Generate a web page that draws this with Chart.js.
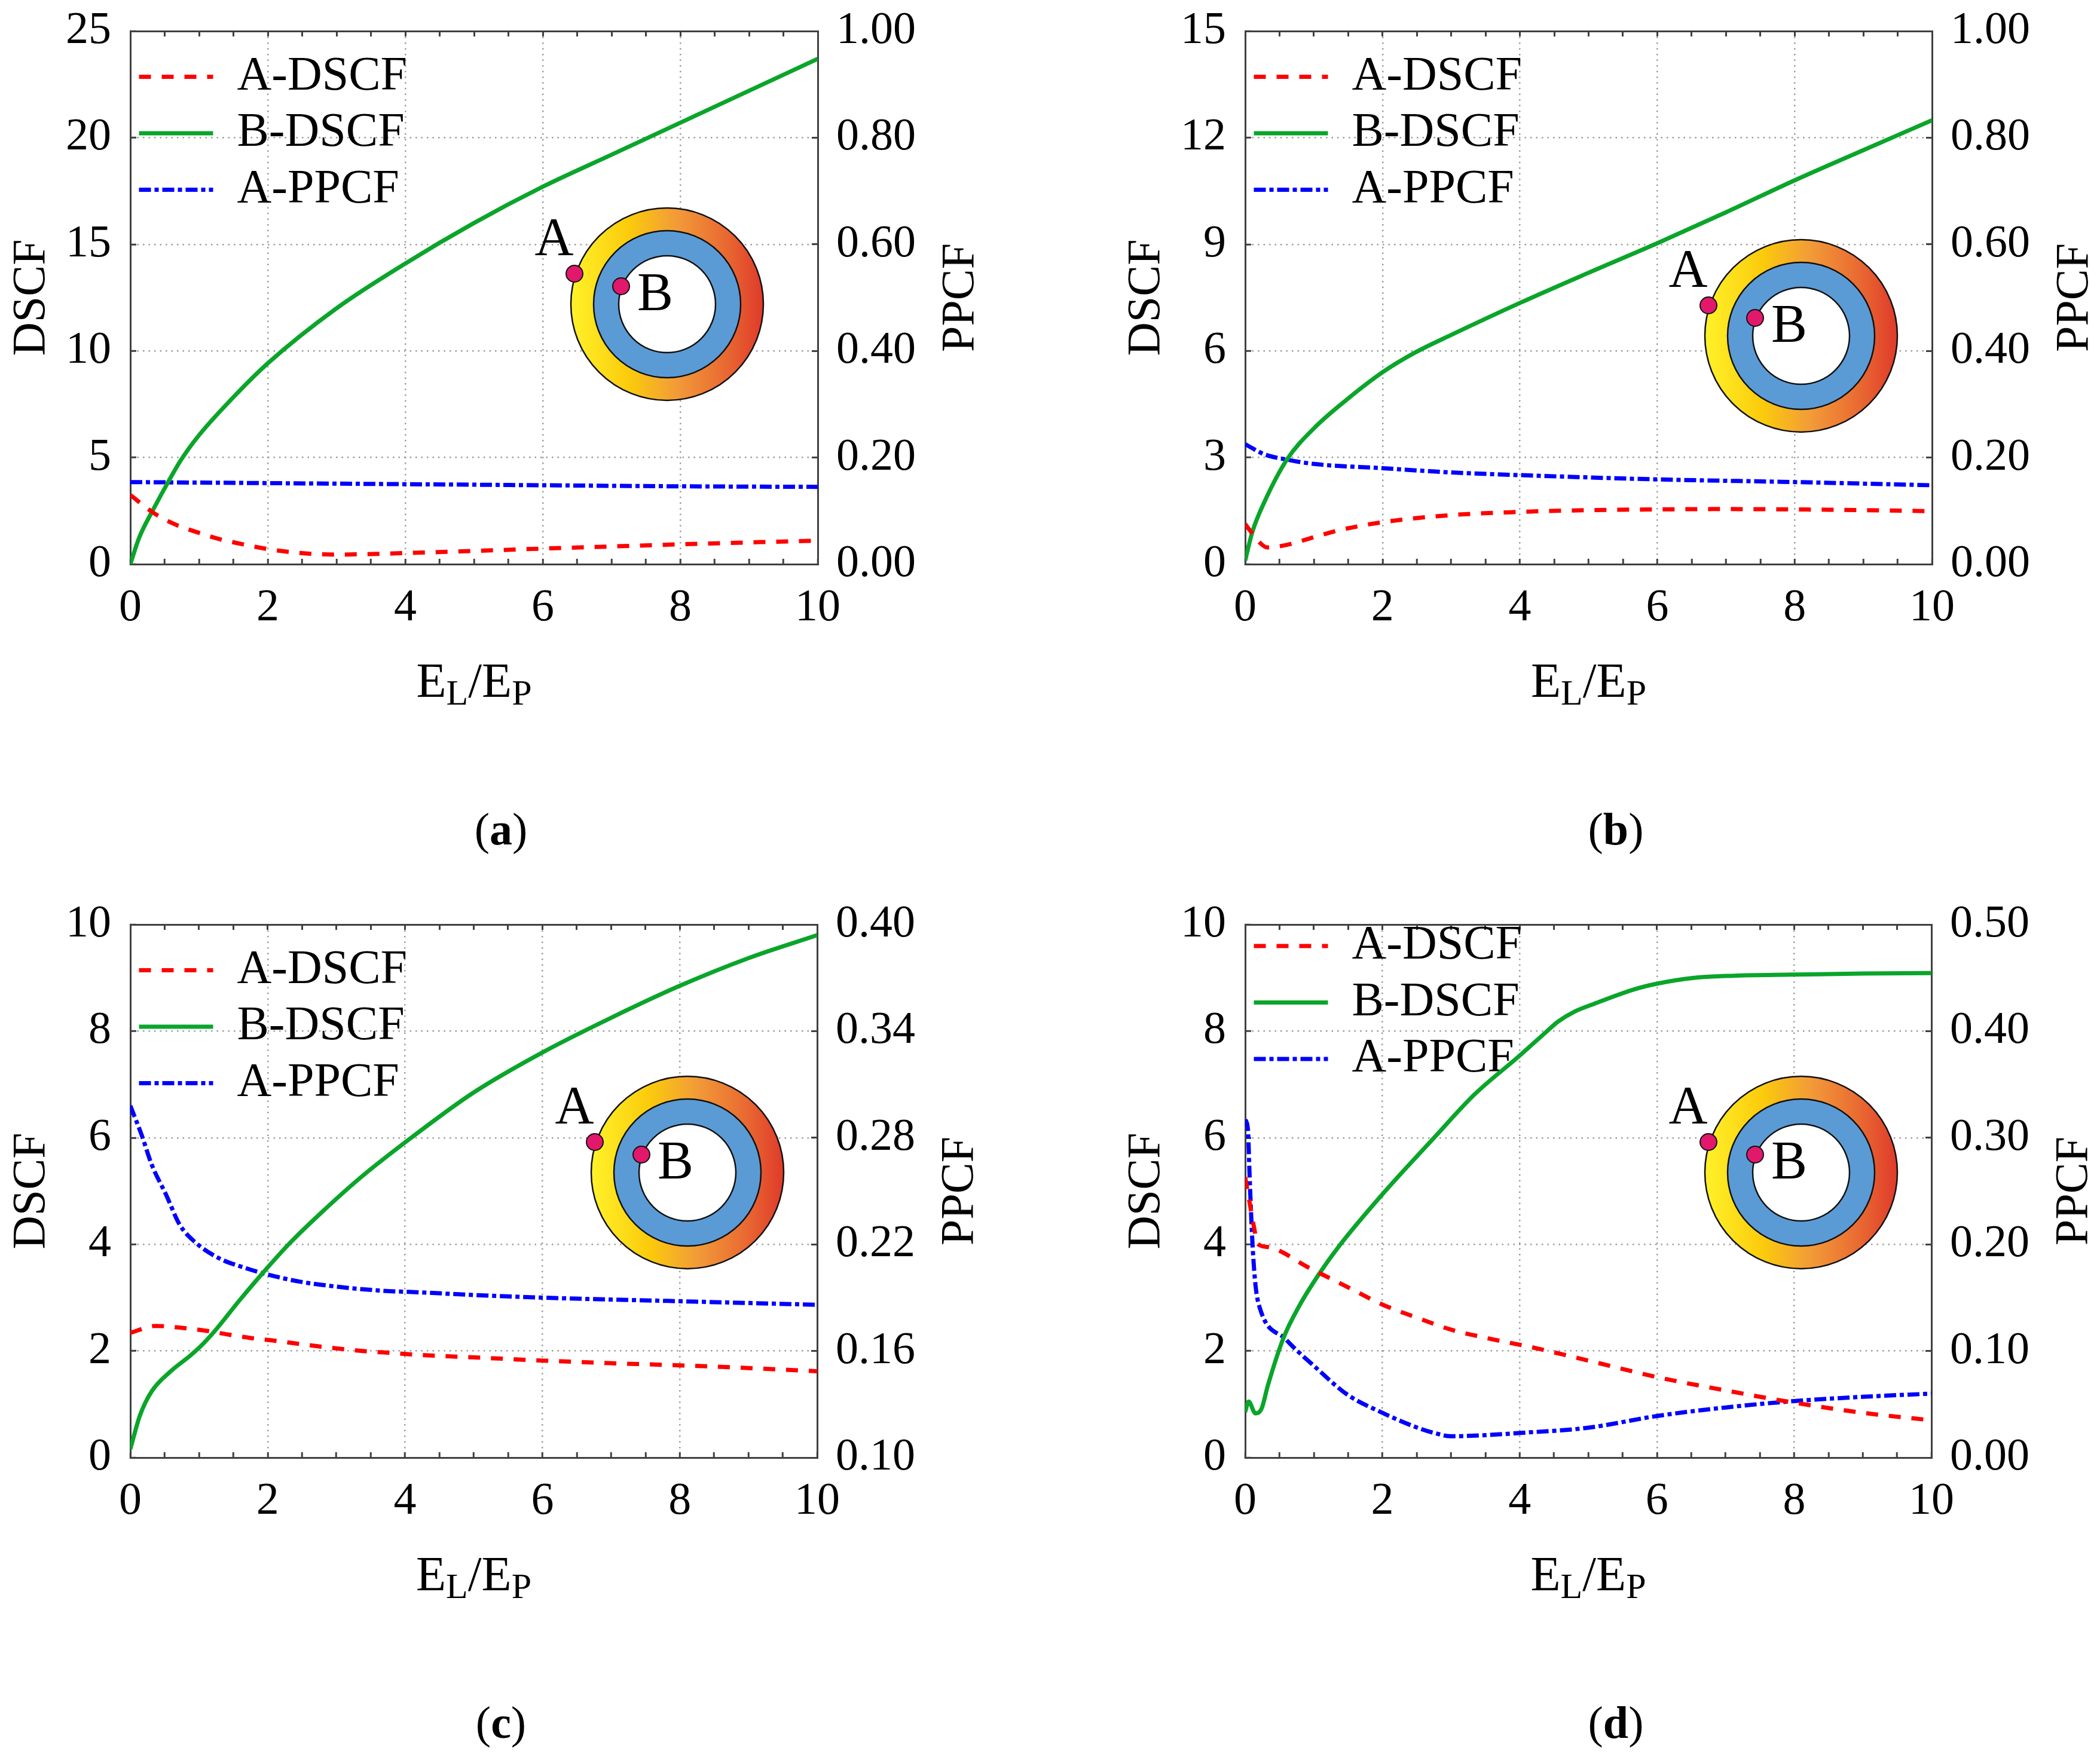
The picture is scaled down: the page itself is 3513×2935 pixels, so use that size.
<!DOCTYPE html>
<html>
<head>
<meta charset="utf-8">
<script src="https://cdn.jsdelivr.net/npm/chart.js@4.4.0/dist/chart.umd.min.js"></script>
<style>
  html, body { margin: 0; padding: 0; background: #fff; overflow: hidden; }
  #page { position: relative; width: 3513px; height: 2935px; font-family: "Liberation Serif", "Times New Roman", serif; color: #000; }
  canvas { position: absolute; }
  .xt { position: absolute; font-size: 82px; line-height: 1; white-space: nowrap; transform: translateX(-50%); }
  .xt sub { font-size: 60px; line-height: 0; vertical-align: -13px; }
  .yt { position: absolute; font-size: 78px; line-height: 1; white-space: nowrap; transform: translate(-50%, -50%) rotate(-90deg); }
  .cap { position: absolute; font-size: 76px; line-height: 1; white-space: nowrap; transform: translate(-50%, -50%); }
</style>
</head>
<body>
<div id="page"></div>
<script>
const FONT = '"Liberation Serif", "Times New Roman", serif';

// x axis ticks (minor every 0.5, labels on the majors)
const xMinor = [0, 0.5, 1, 1.5, 2, 2.5, 3, 3.5, 4, 4.5, 5, 5.5, 6, 6.5, 7, 7.5, 8, 8.5, 9, 9.5, 10];
const xMajor = [0, 2, 4, 6, 8, 10];

const seriesNames = ['A-DSCF', 'B-DSCF', 'A-PPCF'];

// (a)
const aDscfTicks = [0, 5, 10, 15, 20, 25];
const aPpcfTicks = [0, 0.2, 0.4, 0.6, 0.8, 1.0];
const aRedX = [0, 0.34, 0.64, 0.96, 1.29, 1.61, 1.96, 2.31, 2.65, 3, 4, 5, 6, 7, 8, 9, 10];
const aRedY = [3.24, 2.4, 1.88, 1.51, 1.18, 0.95, 0.73, 0.57, 0.48, 0.45, 0.52, 0.62, 0.73, 0.83, 0.93, 1.02, 1.1];
const aGreenX = [0, 0.13, 0.34, 0.55, 0.74, 1, 1.47, 2, 3, 4, 5, 6, 7, 8, 9, 10];
const aGreenY = [0, 1.25, 2.6, 3.85, 4.9, 6.05, 7.73, 9.42, 12.0, 14.1, 16.0, 17.7, 19.2, 20.7, 22.2, 23.7];
const aBlueX = [0, 2, 4, 6, 8, 10];
const aBlueY = [0.154, 0.152, 0.150, 0.148, 0.146, 0.145];

// (b)
const bDscfTicks = [0, 3, 6, 9, 12, 15];
const bPpcfTicks = [0, 0.2, 0.4, 0.6, 0.8, 1.0];
const bRedX = [0, 0.1, 0.22, 0.32, 0.6, 1, 1.38, 2, 3, 4, 5, 6, 7, 8, 9, 10];
const bRedY = [1.13, 0.87, 0.59, 0.47, 0.54, 0.76, 0.96, 1.18, 1.38, 1.47, 1.52, 1.54, 1.55, 1.54, 1.52, 1.49];
const bGreenX = [0, 0.1, 0.28, 0.61, 1, 1.46, 2, 2.47, 3, 4, 5, 6, 7, 8, 9, 10];
const bGreenY = [0.1, 0.88, 1.75, 2.95, 3.82, 4.6, 5.4, 5.95, 6.45, 7.35, 8.2, 9.03, 9.9, 10.8, 11.65, 12.49];
const bBlueX = [0, 0.28, 0.61, 1, 2, 3, 4, 6, 8, 10];
const bBlueY = [0.225, 0.206, 0.196, 0.188, 0.180, 0.172, 0.167, 0.159, 0.154, 0.148];

// (c)
const cDscfTicks = [0, 2, 4, 6, 8, 10];
const cPpcfTicks = [0.10, 0.16, 0.22, 0.28, 0.34, 0.40];
const cRedX = [0, 0.37, 0.78, 1.1, 1.42, 1.77, 2.12, 2.47, 2.78, 3.13, 3.48, 3.83, 4.15, 5, 6, 7, 8, 9, 10];
const cRedY = [2.34, 2.47, 2.43, 2.38, 2.31, 2.24, 2.19, 2.13, 2.08, 2.03, 1.99, 1.96, 1.93, 1.88, 1.82, 1.77, 1.73, 1.68, 1.62];
const cGreenX = [0, 0.14, 0.31, 0.58, 0.87, 1.01, 1.22, 1.59, 1.94, 2.32, 2.76, 3.34, 4.09, 5, 6, 7, 8, 9, 10];
const cGreenY = [0.16, 0.79, 1.24, 1.61, 1.91, 2.07, 2.36, 2.95, 3.48, 4.02, 4.57, 5.24, 6.0, 6.85, 7.6, 8.25, 8.85, 9.37, 9.8];
const cBlueX = [0, 0.17, 0.31, 0.52, 0.72, 0.95, 1.3, 1.65, 2, 2.47, 3.05, 3.63, 4.21, 5, 6, 8, 10];
const cBlueY = [0.298, 0.281, 0.265, 0.248, 0.231, 0.221, 0.212, 0.207, 0.203, 0.199, 0.196, 0.194, 0.193, 0.1915, 0.190, 0.188, 0.186];

// (d)
const dDscfTicks = [0, 2, 4, 6, 8, 10];
const dPpcfTicks = [0, 0.1, 0.2, 0.3, 0.4, 0.5];
const dRedX = [0, 0.064, 0.136, 0.18, 0.33, 0.93, 1.49, 2, 2.47, 3, 3.49, 4.21, 5, 6, 7, 8, 9, 10];
const dRedY = [5.26, 4.79, 4.27, 4.01, 3.95, 3.56, 3.2, 2.87, 2.64, 2.4, 2.25, 2.06, 1.82, 1.51, 1.26, 1.03, 0.84, 0.70];
const dGreenX = [0, 0.05, 0.15, 0.24, 0.33, 0.56, 0.79, 1.08, 1.37, 2, 2.76, 3.34, 4, 4.39, 4.56, 4.79, 5.08, 5.66, 6, 6.54, 7.12, 8, 9, 10];
const dGreenY = [0.855, 1.05, 0.83, 0.92, 1.35, 2.25, 2.85, 3.45, 3.97, 4.94, 6.01, 6.81, 7.54, 7.99, 8.18, 8.36, 8.51, 8.78, 8.89, 9.0, 9.04, 9.06, 9.08, 9.09];
const dBlueX = [0, 0.04, 0.064, 0.107, 0.15, 0.21, 0.59, 1.02, 1.49, 2, 2.47, 2.76, 3, 3.49, 3.98, 5, 6, 7, 8, 9, 10];
const dBlueY = [0.317, 0.308, 0.265, 0.200, 0.162, 0.141, 0.111, 0.085, 0.059, 0.042, 0.029, 0.023, 0.020, 0.021, 0.023, 0.028, 0.039, 0.047, 0.053, 0.057, 0.060];

const panels = [
  { cap: 'a', left: 218, top: 52, w: 1150, h: 892, dscf: aDscfTicks, ppcf: aPpcfTicks,
    red: [aRedX, aRedY], green: [aGreenX, aGreenY], blue: [aBlueX, aBlueY], ring: { x: 898, y: 457 }, legendDy: 22 },
  { cap: 'b', left: 2083, top: 52, w: 1149, h: 892, dscf: bDscfTicks, ppcf: bPpcfTicks,
    red: [bRedX, bRedY], green: [bGreenX, bGreenY], blue: [bBlueX, bBlueY], ring: { x: 930, y: 510 }, legendDy: 22 },
  { cap: 'c', left: 218, top: 1547, w: 1149, h: 892, dscf: cDscfTicks, ppcf: cPpcfTicks,
    red: [cRedX, cRedY], green: [cGreenX, cGreenY], blue: [cBlueX, cBlueY], ring: { x: 932, y: 415 }, legendDy: 22 },
  { cap: 'd', left: 2083, top: 1547, w: 1148, h: 892, dscf: dDscfTicks, ppcf: dPpcfTicks,
    red: [dRedX, dRedY], green: [dGreenX, dGreenY], blue: [dBlueX, dBlueY], ring: { x: 930, y: 415 }, legendDy: -18.5 }
];

const W = 1640, H = 1100, LEFTW = 218, TOPH = 52;
const axisColor = '#404040';
const gridColor = '#9c9c9c';
const gridDash = [2.5, 7];

function pts(xs, ys) {
  return xs.map((x, i) => ({ x: x, y: ys[i] }));
}

// ring diagram with the two points A and B
const ringPlugin = {
  id: 'ring',
  afterDatasetsDraw(chart, args, opts) {
    const ctx = chart.ctx;
    const cx = chart.chartArea.left + opts.x;
    const cy = chart.chartArea.top + opts.y;
    const r1 = 161, r2 = 123, r3 = 81;
    ctx.save();
    const g = ctx.createLinearGradient(cx - r1, 0, cx + r1, 0);
    g.addColorStop(0, '#fff22a');
    g.addColorStop(0.3, '#fbcb0c');
    g.addColorStop(0.55, '#f29b38');
    g.addColorStop(0.8, '#e96a32');
    g.addColorStop(1, '#df3a2a');
    ctx.lineWidth = 2.5;
    ctx.strokeStyle = '#111';
    ctx.beginPath(); ctx.arc(cx, cy, r1, 0, Math.PI * 2); ctx.fillStyle = g; ctx.fill(); ctx.stroke();
    ctx.beginPath(); ctx.arc(cx, cy, r2, 0, Math.PI * 2); ctx.fillStyle = '#5b9bd5'; ctx.fill(); ctx.stroke();
    ctx.beginPath(); ctx.arc(cx, cy, r3, 0, Math.PI * 2); ctx.fillStyle = '#ffffff'; ctx.fill(); ctx.stroke();
    const dots = [[-155, -51], [-77, -30]];
    dots.forEach(d => {
      ctx.beginPath(); ctx.arc(cx + d[0], cy + d[1], 14, 0, Math.PI * 2);
      ctx.fillStyle = '#e2186c'; ctx.fill(); ctx.lineWidth = 2; ctx.stroke();
    });
    ctx.fillStyle = '#000';
    ctx.font = '90px ' + FONT;
    ctx.textAlign = 'center';
    ctx.textBaseline = 'middle';
    ctx.fillText('A', cx - 189, cy - 106);
    ctx.fillText('B', cx - 20, cy - 14);
    ctx.restore();
  }
};

// puts the in-plot legend at a fixed offset below the top of the plot area
const legendShift = {
  id: 'legendShift',
  afterLayout(chart, args, opts) {
    const lg = chart.legend;
    if (lg) {
      const hgt = lg.bottom - lg.top;
      lg.top = chart.chartArea.top + opts.dy;
      lg.bottom = lg.top + hgt;
    }
  }
};

function legendLabels(chart) {
  const items = Chart.defaults.plugins.legend.labels.generateLabels(chart);
  return items.map(it => {
    const ds = chart.data.datasets[it.datasetIndex];
    it.lineDash = ds.borderDash || [];
    it.lineWidth = ds.borderWidth;
    it.strokeStyle = ds.borderColor;
    it.fillStyle = ds.borderColor;
    it.pointStyle = 'line';
    it.lineCap = 'butt';
    return it;
  });
}

// axis label overhang must not push the plot area around
function noPad(s) {
  s.paddingTop = 0; s.paddingBottom = 0; s.paddingLeft = 0; s.paddingRight = 0;
}

const page = document.getElementById('page');

panels.forEach(p => {
  const canvas = document.createElement('canvas');
  canvas.width = W;
  canvas.height = H;
  canvas.style.left = (p.left - LEFTW) + 'px';
  canvas.style.top = (p.top - TOPH) + 'px';
  canvas.style.width = W + 'px';
  canvas.style.height = H + 'px';
  page.appendChild(canvas);

  const tickFont = { family: FONT, size: 76 };
  const xTicksFn = s => { s.ticks = xMinor.map(v => ({ value: v })); };

  new Chart(canvas, {
    type: 'line',
    data: {
      datasets: [
        { label: seriesNames[0], data: pts(p.red[0], p.red[1]), yAxisID: 'y', xAxisID: 'x',
          borderColor: '#ff0000', backgroundColor: '#ff0000', borderWidth: 7, borderDash: [20, 18],
          pointRadius: 0, cubicInterpolationMode: 'monotone', fill: false },
        { label: seriesNames[1], data: pts(p.green[0], p.green[1]), yAxisID: 'y', xAxisID: 'x',
          borderColor: '#0aa52a', backgroundColor: '#0aa52a', borderWidth: 7,
          pointRadius: 0, cubicInterpolationMode: 'monotone', fill: false },
        { label: seriesNames[2], data: pts(p.blue[0], p.blue[1]), yAxisID: 'y1', xAxisID: 'x',
          borderColor: '#0000ff', backgroundColor: '#0000ff', borderWidth: 7, borderDash: [20, 6, 7, 6],
          pointRadius: 0, cubicInterpolationMode: 'monotone', fill: false }
      ]
    },
    options: {
      responsive: false,
      animation: false,
      devicePixelRatio: 1,
      layout: { padding: { top: TOPH, left: 0, right: 0, bottom: 0 } },
      scales: {
        x: {
          type: 'linear', position: 'bottom', min: 0, max: 10,
          afterBuildTicks: xTicksFn,
          afterFit: s => { s.height = H - TOPH - p.h; noPad(s); },
          ticks: { autoSkip: false, maxRotation: 0, padding: 37, font: tickFont, color: '#000',
            callback: v => xMajor.includes(v) ? String(v) : '' },
          grid: { color: c => (c.tick && xMajor.includes(c.tick.value)) ? gridColor : 'rgba(0,0,0,0)',
            lineWidth: 2.5, tickLength: -9, tickColor: axisColor, tickWidth: 3, tickBorderDash: [] },
          border: { color: axisColor, width: 3, dash: gridDash }
        },
        x2: {
          type: 'linear', position: 'top', min: 0, max: 10,
          afterBuildTicks: xTicksFn,
          afterFit: s => { s.height = 0; noPad(s); },
          ticks: { display: false },
          grid: { drawOnChartArea: false, tickLength: -9, tickColor: axisColor, tickWidth: 3, tickBorderDash: [] },
          border: { color: axisColor, width: 3 }
        },
        y: {
          type: 'linear', position: 'left', min: p.dscf[0], max: p.dscf[p.dscf.length - 1],
          afterBuildTicks: s => { s.ticks = p.dscf.map(v => ({ value: v })); },
          afterFit: s => { s.width = LEFTW; noPad(s); },
          ticks: { padding: 42, font: tickFont, color: '#000', callback: v => String(v) },
          grid: { color: gridColor, lineWidth: 2.5,
            tickLength: -10, tickColor: axisColor, tickWidth: 3, tickBorderDash: [] },
          border: { color: axisColor, width: 3, dash: gridDash },
          title: { display: true, text: 'DSCF', color: '#000', font: { family: FONT, size: 78 },
            padding: { top: 7, bottom: 0 } }
        },
        y1: {
          type: 'linear', position: 'right', min: p.ppcf[0], max: p.ppcf[p.ppcf.length - 1],
          afterBuildTicks: s => { s.ticks = p.ppcf.map(v => ({ value: v })); },
          afterFit: s => { s.width = W - LEFTW - p.w; noPad(s); },
          ticks: { padding: 41, font: tickFont, color: '#000', callback: v => v.toFixed(2) },
          grid: { drawOnChartArea: false, tickLength: -10, tickColor: axisColor, tickWidth: 3, tickBorderDash: [] },
          border: { color: axisColor, width: 3 }
        }
      },
      plugins: {
        legend: {
          position: 'chartArea',
          align: 'start',
          labels: {
            usePointStyle: true,
            pointStyleWidth: 124,
            padding: 14.5,
            color: '#000',
            font: { family: FONT, size: 80 },
            generateLabels: legendLabels
          }
        },
        tooltip: { enabled: false },
        ring: p.ring,
        legendShift: { dy: p.legendDy }
      }
    },
    plugins: [ringPlugin, legendShift]
  });

  const xt = document.createElement('div');
  xt.className = 'xt';
  xt.style.left = (p.left + p.w / 2) + 'px';
  xt.style.top = (p.top + p.h + 154) + 'px';
  xt.innerHTML = 'E<sub>L</sub>/E<sub>P</sub>';
  page.appendChild(xt);

  const yt = document.createElement('div');
  yt.className = 'yt';
  yt.style.left = (p.left + p.w + 234) + 'px';
  yt.style.top = (p.top + p.h / 2) + 'px';
  yt.textContent = 'PPCF';
  page.appendChild(yt);

  const cap = document.createElement('div');
  cap.className = 'cap';
  cap.style.left = (p.left + 620) + 'px';
  cap.style.top = (p.top + p.h + 443) + 'px';
  cap.innerHTML = '(<b>' + p.cap + '</b>)';
  page.appendChild(cap);
});
</script>
</body>
</html>
